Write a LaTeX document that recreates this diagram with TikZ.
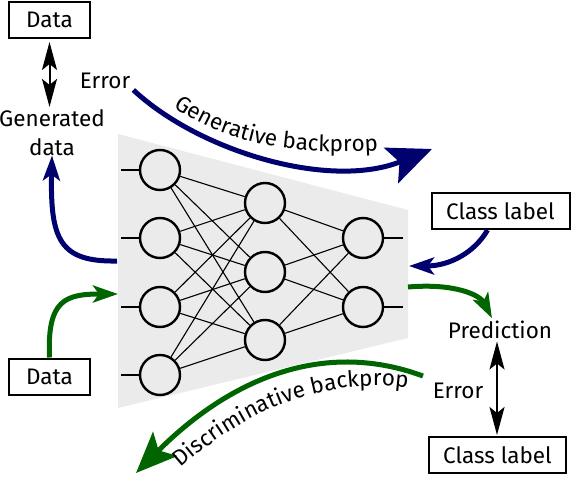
\documentclass[tikz,border=0pt]{standalone}
\usepackage{fontspec}
\setmainfont{Fira Sans}
\usetikzlibrary{arrows.meta,decorations.text}
\definecolor{gblue}{RGB}{0,0,110}
\definecolor{ggreen}{RGB}{0,100,0}
\definecolor{ggray}{RGB}{235,235,235}
\newcommand{\labfont}{\fontsize{22.5}{29}\selectfont}
\begin{document}
\begin{tikzpicture}[x=1pt,y=-1pt,font=\labfont,
  box/.style={draw,line width=2pt,minimum width=81pt,minimum height=36pt,inner sep=0pt},
  lbl/.style={inner sep=0pt,align=center},
  neuron/.style={circle,draw,line width=2.4pt,fill=ggray,minimum size=40pt,inner sep=0pt},
  conn/.style={line width=1.1pt},
  stub/.style={line width=2pt},
  bigblue/.style={draw=gblue,line width=5pt,-{Stealth[length=44pt,width=38pt,inset=9pt,fill=gblue]}},
  biggreen/.style={draw=ggreen,line width=5pt,-{Stealth[length=41pt,width=34pt,inset=9pt,fill=ggreen]}},
  smallblue/.style={draw=gblue,line width=5pt,-{Stealth[length=25pt,width=17pt,inset=6pt,fill=gblue]}},
  smallgreen/.style={draw=ggreen,line width=5pt,-{Stealth[length=25pt,width=17pt,inset=6pt,fill=ggreen]}},
  errarrow/.style={line width=2pt,{Stealth[length=28pt,width=15pt,inset=6pt]}-{Stealth[length=28pt,width=15pt,inset=6pt]}},
  pathtext/.style={decorate,decoration={text along path,raise=0pt,text align=left,text={|\labfont|#1}}}
]
\useasboundingbox (0,0) rectangle (572,476);

% network background
\fill[ggray] (118,134) -- (408,210) -- (408,338) -- (118,408) -- cycle;

% neurons
\foreach \i/\y in {1/170,2/238,3/307,4/375}{
  \node[neuron] (a\i) at (160,\y) {};
  \coordinate (in\i) at (121,\y);
}
\foreach \j/\y in {1/203,2/272,3/340}{
  \node[neuron] (b\j) at (265,\y) {};
}
\foreach \k/\y in {1/238,2/307}{
  \node[neuron] (c\k) at (363,\y) {};
  \coordinate (out\k) at (403,\y);
}
\foreach \i in {1,...,4}{\foreach \j in {1,2,3}{\draw[conn] (a\i) -- (b\j);}}
\foreach \j in {1,2,3}{\foreach \k in {1,2}{\draw[conn] (b\j) -- (c\k);}}
\foreach \i in {1,...,4}{\draw[stub] (in\i) -- (a\i.west);}
\foreach \k in {1,2}{\draw[stub] (c\k.east) -- (out\k);}

% text nodes and boxes
\node[box] (dtop) at (49.5,20) {Data};
\node[box] (dbot) at (49.5,376.5) {Data};
\node[box,minimum width=138pt] (cl1) at (500.5,211) {Class label};
\node[box,minimum width=137pt] (cl2) at (497.5,455) {Class label};
\node[lbl,anchor=base] (err1) at (105,89) {Error};
\node[lbl,anchor=base] (gen) at (52,155) {Generated\\data};
\node[lbl,anchor=base,inner sep=2pt] (pred) at (500,338) {Prediction};
\node[lbl,anchor=base] (err2) at (458,398) {Error};

% network side points
\coordinate (nl1) at (117,261);
\coordinate (nl2) at (118,294);
\coordinate (nr1) at (409,266);
\coordinate (nr2) at (408,287);
\coordinate (gtip) at (432,149);
\coordinate (dtip) at (136,473);
\coordinate (dstart) at (423,376);

% error double arrows
\draw[errarrow,shorten <=3pt,shorten >=2pt] (dtop.south) -- (gen.north -| dtop.south);
\draw[errarrow,shorten <=1pt,shorten >=1pt] ([xshift=-3]pred.south) -- ([xshift=-0.5]cl2.north);

% generative backprop
\draw[bigblue] ([shift={(3,1)}]err1.base east) .. controls (200,152) and (330,190) .. (gtip);
\path[pathtext={Generative backprop}] (174,107) .. controls (215,135) and (268,158) .. (385,150);

% discriminative backprop
\draw[biggreen] (dstart) .. controls (320,338) and (227,382) .. (dtip);
\path[pathtext={Discriminative backprop}] (181,468) .. controls (235,420) and (320,368) .. (432,392);

% small arrows
\draw[smallblue] (nl1) .. controls (60,262) and (50,240) .. (gen.south);
\draw[smallgreen] (dbot.north) .. controls (47,300) and (65,294) .. (nl2);
\draw[smallblue] ([xshift=-13]cl1.south) .. controls (475,252) and (450,266) .. (nr1);
\draw[smallgreen] (nr2) .. controls (455,283) and (480,295) .. ([xshift=-8]pred.north);
\end{tikzpicture}
\end{document}
